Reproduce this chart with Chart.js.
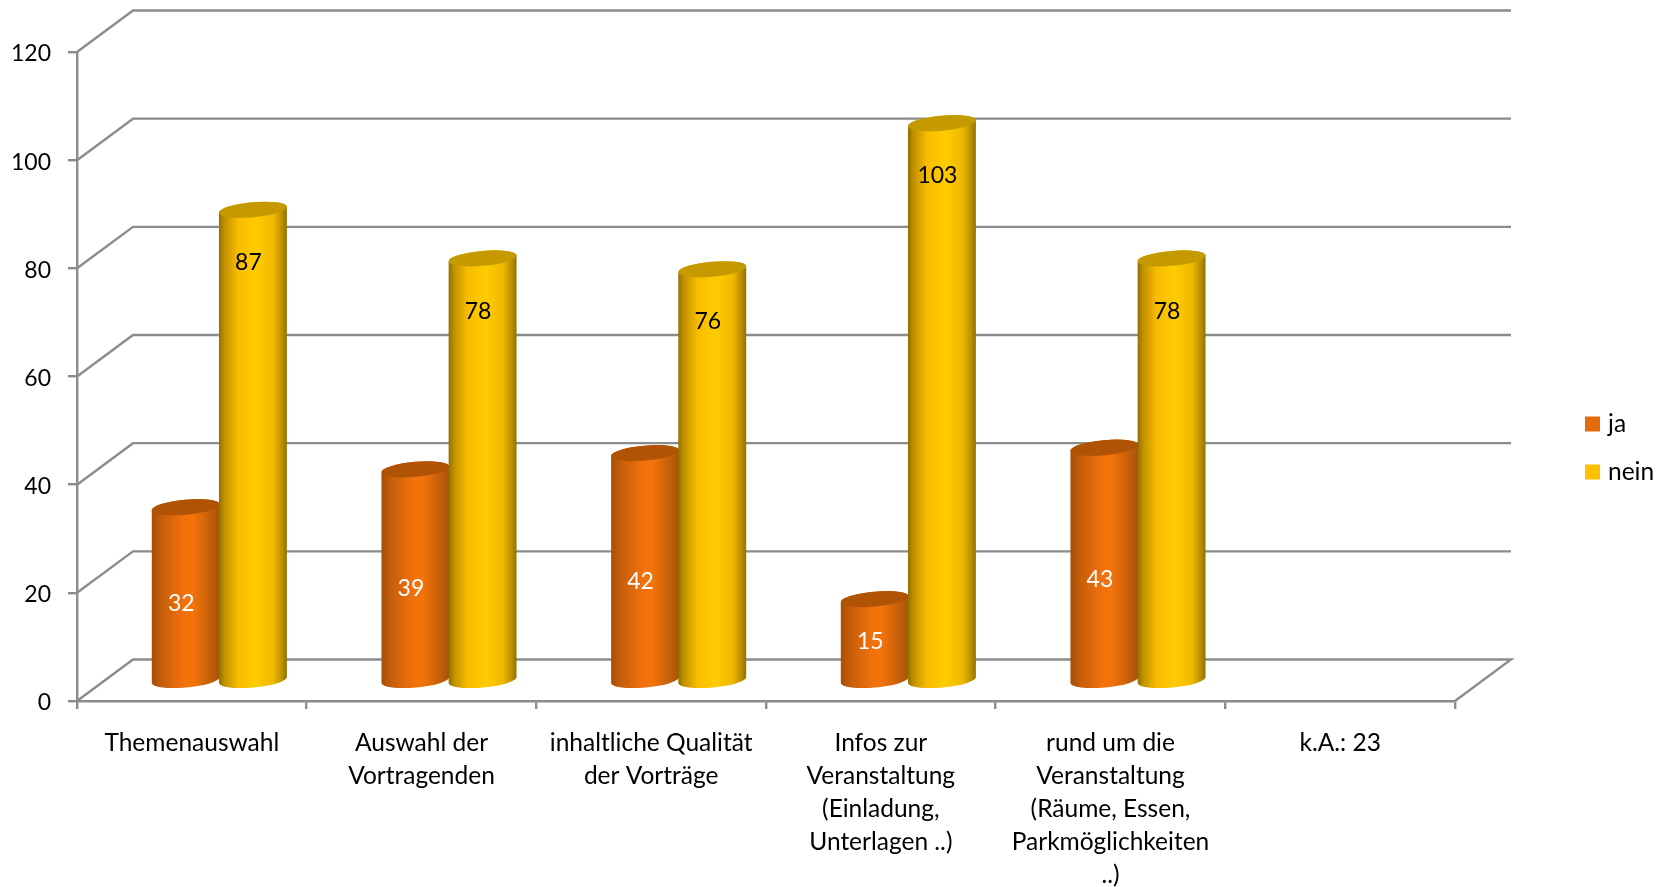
<!DOCTYPE html>
<html>
<head>
<meta charset="utf-8">
<title>Chart</title>
<script src="https://cdn.jsdelivr.net/npm/chart.js@4"></script>
<style>
body{margin:0;background:#fff;}
canvas{display:block;}
</style>
</head>
<body>
<canvas id="myChart" width="1667" height="887"></canvas>
<script>
var categories=[
    "Themenauswahl",
    ["Auswahl der","Vortragenden"],
    ["inhaltliche Qualität","der Vorträge"],
    ["Infos zur","Veranstaltung","(Einladung,","Unterlagen ..)"],
    ["rund um die","Veranstaltung","(Räume, Essen,","Parkmöglichkeiten","..)"],
    "k.A.: 23"
];
var jaValues=[32,39,42,15,43,null];
var neinValues=[87,78,76,103,78,null];
var yTicks=[0,20,40,60,80,100,120];

var lineColor="#8c8c8c";
var fontName="Lato";
var fontSize=24.5;
var numberSize=23;

// depth of the fake 3d box
var depthX=56;
var depthY=-41.5;

function cylinder(ctx,el,stops,topColor){
    var cx=el.x+depthX/2-0.5;
    var top=el.y+depthY/2;
    var bottom=el.base+depthY/2+1;
    var rx=el.width/2+0.5;
    var ry=7.5;
    var rot=-0.09;
    var grad=ctx.createLinearGradient(cx-rx,0,cx+rx,0);
    stops.forEach(function(s){
        grad.addColorStop(s[0],s[1]);
    });
    ctx.beginPath();
    ctx.ellipse(cx,bottom,rx,ry,rot,0,Math.PI);
    ctx.ellipse(cx,top,rx,ry,rot,Math.PI,Math.PI*2);
    ctx.closePath();
    ctx.fillStyle=grad;
    ctx.fill();
    ctx.beginPath();
    ctx.ellipse(cx,top,rx,ry,rot,0,Math.PI*2);
    ctx.fillStyle=topColor;
    ctx.fill();
}

var box3d={
    id:"box3d",
    beforeDatasetsDraw:function(chart){
        var ctx=chart.ctx;
        var x=chart.scales.x;
        var y=chart.scales.y;
        ctx.save();
        // back wall lines, one for each y tick
        ctx.strokeStyle=lineColor;
        ctx.lineWidth=2.4;
        yTicks.forEach(function(t){
            var py=y.getPixelForValue(t);
            ctx.beginPath();
            ctx.moveTo(x.left,py);
            ctx.lineTo(x.left+depthX,py+depthY);
            ctx.lineTo(x.right+depthX,py+depthY);
            if(t===0){
                ctx.lineTo(x.right,py);
            }
            ctx.stroke();
        });
        // cylinders, ja first so nein overlaps it
        chart.data.datasets.forEach(function(ds,d){
            chart.getDatasetMeta(d).data.forEach(function(el,i){
                if(ds.data[i]!==null){
                    cylinder(ctx,el,ds.stops,ds.topColor);
                }
            });
        });
        ctx.restore();
    },
    beforeDatasetDraw:function(){
        return false;
    },
    afterDatasetsDraw:function(chart){
        var ctx=chart.ctx;
        var y=chart.scales.y;
        ctx.save();
        ctx.font=numberSize+"px "+fontName;
        ctx.textAlign="center";
        ctx.textBaseline="middle";
        chart.data.datasets.forEach(function(ds,d){
            chart.getDatasetMeta(d).data.forEach(function(el,i){
                var v=ds.data[i];
                if(v===null) return;
                ctx.fillStyle=ds.labelColor;
                var ly;
                if(d===0){
                    ly=y.getPixelForValue(v*0.41)-26;
                }else{
                    ly=el.y+32;
                }
                ctx.fillText(v,el.x+23,ly);
            });
        });
        // legend sits further right than the library would put it
        ctx.font=fontSize+"px "+fontName;
        ctx.textAlign="left";
        chart.data.datasets.forEach(function(ds,d){
            var ly=424+d*48;
            ctx.fillStyle=ds.backgroundColor;
            ctx.fillRect(1585,ly-7.5,15,15);
            ctx.fillStyle="#000";
            ctx.fillText(ds.label,1608,ly);
        });
        ctx.restore();
    }
};

var ctx=document.getElementById("myChart").getContext("2d");
var myChart=new Chart(ctx,{
    type:"bar",
    data:{
        labels:categories,
        datasets:[
            {
                label:"ja",
                data:jaValues,
                backgroundColor:"#E46C0A",
                labelColor:"#ffffff",
                topColor:"#B05305",
                stops:[[0,"#A64F08"],[0.15,"#C65E0A"],[0.45,"#F0700C"],[0.6,"#F4740A"],[0.8,"#D0640A"],[1,"#A6520A"]]
            },
            {
                label:"nein",
                data:neinValues,
                backgroundColor:"#FFC000",
                labelColor:"#000000",
                topColor:"#C49A00",
                stops:[[0,"#8F7000"],[0.08,"#C09000"],[0.28,"#F8BC00"],[0.55,"#FFCC00"],[0.8,"#F0B800"],[0.92,"#BE9200"],[1,"#8F7200"]]
            }
        ]
    },
    options:{
        responsive:false,
        animation:false,
        layout:{padding:{left:0,top:52,right:212,bottom:0}},
        datasets:{bar:{categoryPercentage:0.585,barPercentage:1,clip:false}},
        plugins:{
            tooltip:{enabled:false},
            title:{display:false},
            legend:{display:false}
        },
        scales:{
            x:{
                afterFit:function(s){s.height=186;},
                border:{color:lineColor,width:2.4},
                grid:{drawOnChartArea:false,color:lineColor,lineWidth:2.4,tickLength:8},
                ticks:{
                    color:"#000",
                    autoSkip:false,
                    maxRotation:0,
                    padding:18,
                    font:{family:fontName,size:fontSize,lineHeight:33/fontSize}
                }
            },
            y:{
                min:0,
                max:120,
                afterFit:function(s){s.width=77;},
                border:{color:lineColor,width:2.4},
                grid:{drawOnChartArea:false,color:lineColor,lineWidth:2.4,tickLength:9},
                ticks:{
                    color:"#000",
                    stepSize:20,
                    padding:17,
                    labelOffset:2,
                    font:{family:fontName,size:numberSize}
                }
            }
        }
    },
    plugins:[box3d]
});
</script>
</body>
</html>
